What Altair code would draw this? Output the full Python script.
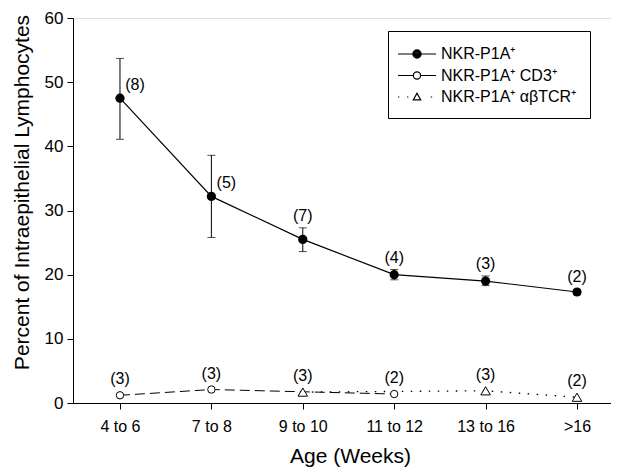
import json
import altair as alt
import pandas as pd

# ---------------- data ----------------
categories = ["4 to 6", "7 to 8", "9 to 10", "11 to 12", "13 to 16", ">16"]

main_mean = [47.5, 32.2, 25.5, 20.0, 19.0, 17.3]
main_lo = [41.1, 25.8, 23.6, 19.2, 18.3, 16.9]
main_hi = [53.7, 38.6, 27.3, 20.8, 19.8, 17.7]
main_n = ["(8)", "(5)", "(7)", "(4)", "(3)", "(2)"]

cd3_cats = ["4 to 6", "7 to 8", "11 to 12"]
cd3_vals = [1.2, 2.1, 1.4]
cd3_n = ["(3)", "(3)", "(2)"]

tcr_cats = ["9 to 10", "13 to 16", ">16"]
tcr_vals = [1.7, 1.9, 0.9]
tcr_n = ["(3)", "(3)", "(2)"]

series_names = ["NKR-P1A\u207a", "NKR-P1A\u207a CD3\u207a", "NKR-P1A\u207a \u03b1\u03b2TCR\u207a"]

# ---------------- frames ----------------
main_df = pd.DataFrame({
    "idx": list(range(len(categories))), "age": categories,
    "val": main_mean, "lo": main_lo, "hi": main_hi, "n": main_n,
})
cd3_df = pd.DataFrame({
    "idx": [categories.index(c) for c in cd3_cats], "age": cd3_cats,
    "val": cd3_vals, "n": cd3_n,
})
tcr_df = pd.DataFrame({
    "idx": [categories.index(c) for c in tcr_cats], "age": tcr_cats,
    "val": tcr_vals, "n": tcr_n,
})
legend_df = pd.DataFrame({
    "series": series_names,
    "idx": [main_df.idx[0], cd3_df.idx[0], tcr_df.idx[0]],
    "val": [main_df.val[0], cd3_df.val[0], tcr_df.val[0]],
})

FONT = "Liberation Sans"

xscale = alt.Scale(domain=[-0.514, 5.372], nice=False, zero=False)
yscale = alt.Scale(domain=[0, 60], nice=False)

xaxis = alt.Axis(
    values=list(range(len(categories))),
    labelExpr=f"{json.dumps(categories)}[datum.value]",
    grid=False, tickSize=6, labelPadding=9, labelFontSize=16,
    titleFontSize=21, titleFontWeight="normal", titleX=277, titleY=53,
    titleBaseline="middle", domainColor="black", tickColor="black",
    labelColor="black", titleColor="black", labelFont=FONT, titleFont=FONT,
)
yaxis = alt.Axis(
    values=[0, 10, 20, 30, 40, 50, 60], grid=False, tickSize=6,
    labelPadding=4, labelFontSize=17, titleFontSize=21,
    titleFontWeight="normal", titleX=-51, titleY=174, titleBaseline="middle",
    titleAlign="center", domainColor="black", tickColor="black",
    labelColor="black", titleColor="black", labelFont=FONT, titleFont=FONT,
)

X = alt.X("idx:Q", scale=xscale, axis=xaxis, title="Age (Weeks)")
Y = alt.Y("val:Q", scale=yscale, axis=yaxis,
          title="Percent of Intraepithelial Lymphocytes")


def ring(cx, r):
    return (f"M{cx - r:.3f},0A{r},{r} 0 1,0 {cx + r:.3f},0"
            f"A{r},{r} 0 1,0 {cx - r:.3f},0Z")


# legend symbol paths (line + marker), drawn in symbol units
main_path = ("M-1.44,0H0.147M1.187,0H2.78" +
             "".join(ring(0.667, r) for r in [0.46, 0.34, 0.22, 0.1, 0.02]))
cd3_path = "M-1.44,0H0.267M1.067,0H2.78" + ring(0.667, 0.4)
tcr_path = ("M-1.44,0h0.15M-0.44,0h0.15M2.2,0h0.15"
            "M0.667,-0.42L1.08,0.32L0.254,0.32Z")

leg = alt.Legend(
    title=None, orient="none", legendX=315, legendY=13, padding=13,
    strokeColor="black", fillColor="white", labelFontSize=16,
    labelFont=FONT, labelColor="black", labelOffset=20, rowPadding=3.5,
    symbolSize=324, symbolStrokeWidth=1.2, symbolStrokeColor="black",
    symbolFillColor="transparent", symbolOpacity=1, labelLimit=400,
)

legend_layer = alt.Chart(legend_df).mark_point(size=1, strokeWidth=1.2, stroke="black", opacity=1).encode(
    x=X, y=Y,
    shape=alt.Shape("series:N", scale=alt.Scale(domain=series_names,
                    range=[main_path, cd3_path, tcr_path]), legend=leg),
)

main_line = alt.Chart(main_df).mark_line(color="black", strokeWidth=1.2).encode(x=X, y=Y)
main_err = alt.Chart(main_df).mark_rule(color="black", strokeWidth=1).encode(
    x=X, y=alt.Y("lo:Q", scale=yscale), y2="hi:Q")
main_cap_lo = alt.Chart(main_df).mark_tick(color="black", orient="horizontal", size=8, thickness=1).encode(
    x=X, y=alt.Y("lo:Q", scale=yscale))
main_cap_hi = alt.Chart(main_df).mark_tick(color="black", orient="horizontal", size=8, thickness=1).encode(
    x=X, y=alt.Y("hi:Q", scale=yscale))
main_pts = alt.Chart(main_df).mark_point(shape="circle", size=85, filled=True, color="black", opacity=1).encode(x=X, y=Y)

text_kw = dict(font=FONT, fontSize=16, color="black", baseline="middle", align="center")
main_lab_side = alt.Chart(main_df).transform_filter("datum.idx < 2").mark_text(dx=15, dy=-13, **text_kw).encode(
    x=X, y=Y, text="n:N")
main_lab_top = alt.Chart(main_df).transform_filter("datum.idx >= 2").mark_text(dy=-12, **text_kw).encode(
    x=X, y=alt.Y("hi:Q", scale=yscale), text="n:N")

cd3_line = alt.Chart(cd3_df).mark_line(color="black", strokeWidth=1, strokeDash=[10, 5]).encode(x=X, y=Y)
tcr_line = alt.Chart(tcr_df).mark_line(color="black", strokeWidth=1.3, strokeDash=[1.5, 7.5]).encode(x=X, y=Y)
cd3_pts = alt.Chart(cd3_df).mark_point(shape="circle", size=55, filled=True, fill="white",
                                       stroke="black", strokeWidth=1, opacity=1).encode(x=X, y=Y)
tcr_pts = alt.Chart(tcr_df).mark_point(shape="triangle-up", size=90, filled=True, fill="white",
                                       stroke="black", strokeWidth=1, opacity=1).encode(x=X, y=Y)
cd3_lab = alt.Chart(cd3_df).mark_text(dy=-16, **text_kw).encode(x=X, y=Y, text="n:N")
tcr_lab = alt.Chart(tcr_df).mark_text(dy=-16, **text_kw).encode(x=X, y=Y, text="n:N")

chart = alt.layer(
    legend_layer, main_line, cd3_line, tcr_line, main_err, main_cap_lo, main_cap_hi,
    main_pts, cd3_pts, tcr_pts, main_lab_side, main_lab_top, cd3_lab, tcr_lab,
).properties(
    width=538, height=385,
    autosize=alt.AutoSizeParams(type="none"),
    padding={"left": 65, "top": 10, "right": 0, "bottom": 68},
).configure_view(stroke=None).configure(background="white")

chart.save("out.html", embed_options={"renderer": "svg", "actions": False})
